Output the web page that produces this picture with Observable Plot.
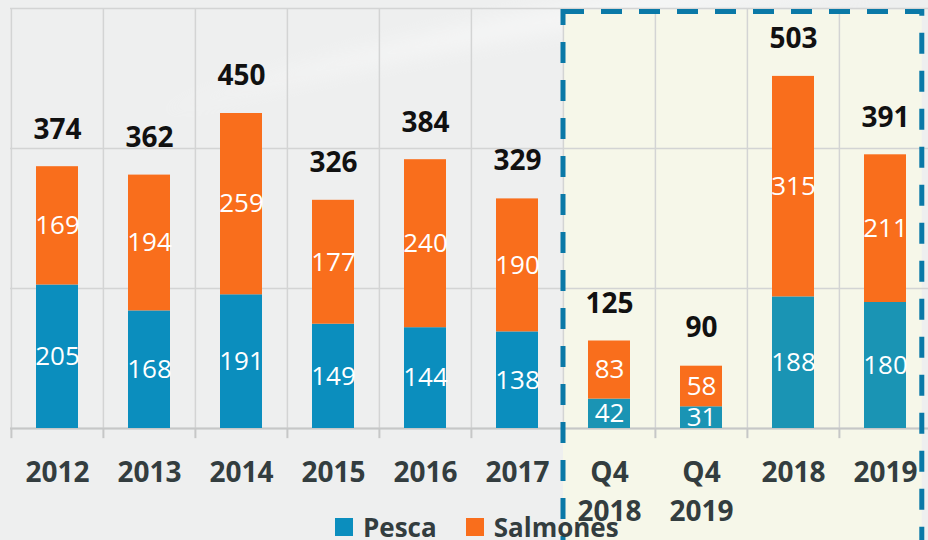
<!DOCTYPE html>
<html>
<head>
<meta charset="utf-8">
<script src="https://cdn.jsdelivr.net/npm/d3@7"></script>
<script src="https://cdn.jsdelivr.net/npm/@observablehq/plot@0.6"></script>
<style>
  html, body { margin: 0; padding: 0; }
  body { background: #eeefef; width: 928px; height: 540px; overflow: hidden; font-family: "Open Sans", sans-serif; }
  #wrap { position: relative; width: 928px; height: 540px; overflow: hidden; }
  #legend { position: absolute; top: 513px; left: 335px; height: 28px; display: flex; align-items: center; font-weight: bold; font-size: 26px; color: #333d3f; white-space: nowrap; }
  #legend .item { display: flex; align-items: center; margin-right: 29px; }
  #legend .sw { width: 18px; height: 18px; margin-right: 10px; }
</style>
</head>
<body>
<div id="wrap"></div>
<script>
const categories = ["2012","2013","2014","2015","2016","2017","Q4\n2018","Q4\n2019","2018","2019"];
const pesca = [205,168,191,149,144,138,42,31,188,180];
const salmones = [169,194,259,177,240,190,83,58,315,211];
const totals = [374,362,450,326,384,329,125,90,503,391];
const seriesNames = ["Pesca","Salmones"];
const seriesColors = ["#0b8ebe","#f96e1c"];
const highlightPescaColor = "#1a94b4";
const highlighted = ["Q4\n2018","Q4\n2019","2018","2019"];
const yTicks = [0,200,400,600];

(function () {
const rows = [];
categories.forEach((c,i) => rows.push({cat:c, series:"Pesca", value:pesca[i]}));
categories.forEach((c,i) => rows.push({cat:c, series:"Salmones", value:salmones[i]}));
const totalRows = categories.map((c,i) => ({cat:c, total:totals[i]}));

const font = "'Open Sans', sans-serif";
const half = (932 - 10) / categories.length / 2;
const barFill = d => d.series === "Pesca"
  ? (highlighted.includes(d.cat) ? highlightPescaColor : seriesColors[0])
  : seriesColors[1];

const plot = Plot.plot({
  width: 928,
  height: 540,
  marginTop: 8,
  marginBottom: 112,
  marginLeft: 10,
  marginRight: 0,
  style: {background: "transparent", fontFamily: font, overflow: "visible"},
  x: {domain: categories, range: [10, 932], padding: 0, axis: null},
  y: {domain: [0, 600], axis: null},
  marks: [
    Plot.ruleY(yTicks, {stroke: "#d3d4d4", strokeWidth: 1.5}),
    Plot.ruleX(categories, {x: d => d, y1: 0, y2: 600, dx: -half, stroke: "#d3d4d4", strokeWidth: 1.5}),
    Plot.ruleX(categories, {x: d => d, y1: 0, y2: -14.5, dx: -half, stroke: "#c6c7c7", strokeWidth: 2}),
    Plot.ruleY([0], {stroke: "#c6c7c7", strokeWidth: 2}),
    Plot.barY(rows, {x: "cat", y: "value", z: "series", fill: barFill, insetLeft: 25, insetRight: 25}),
    Plot.text(rows, Plot.stackY({x: "cat", y: "value", z: "series", text: d => String(d.value), fill: "white", fontSize: 26, fontFamily: font})),
    Plot.text(totalRows, {x: "cat", y: "total", text: d => String(d.total), dy: -37, fill: "#111", fontSize: 28, fontWeight: "bold", fontFamily: font}),
    Plot.axisX({tickSize: 0, tickPadding: 26, fontSize: 28, fontWeight: "bold", fill: "#333d3f", lineHeight: 1.38, fontFamily: font, label: null})
  ]
});

document.getElementById("wrap").appendChild(plot);

const xs = plot.scale("x");
const ys = plot.scale("y");
const bw = xs.bandwidth;
const boxLeft = xs.apply(highlighted[0]);
const boxRight = xs.apply(highlighted[highlighted.length - 1]) + bw * 0.9;
const boxTop = ys.apply(600) + 3.5;
const svg = d3.select(plot);
svg.insert("rect", ":first-child")
  .attr("x", boxLeft).attr("y", boxTop - 2)
  .attr("width", boxRight - boxLeft).attr("height", 560)
  .attr("fill", "#f6f7e9");
// soft light swoosh in the backdrop
const defs = svg.insert("defs", ":first-child");
const blur = defs.append("filter").attr("id", "soft").attr("x", "-20%").attr("y", "-50%").attr("width", "140%").attr("height", "200%");
blur.append("feGaussianBlur").attr("stdDeviation", 10);
svg.insert("path", "rect")
  .attr("d", "M 150 115 Q 400 30 660 -10 L 900 -10 Q 520 20 150 115 Z")
  .attr("fill", "white")
  .attr("opacity", 0.45)
  .attr("filter", "url(#soft)");
svg.append("rect")
  .attr("x", boxLeft).attr("y", boxTop)
  .attr("width", boxRight - boxLeft).attr("height", 560)
  .attr("fill", "none")
  .attr("stroke", "#0a79a7")
  .attr("stroke-width", 5)
  .attr("stroke-dasharray", "21 17");

const legend = document.createElement("div");
legend.id = "legend";
seriesNames.forEach((n,i) => {
  const it = document.createElement("div");
  it.className = "item";
  const sw = document.createElement("div");
  sw.className = "sw";
  sw.style.background = seriesColors[i];
  const t = document.createElement("span");
  t.textContent = n;
  it.appendChild(sw); it.appendChild(t);
  legend.appendChild(it);
});
document.getElementById("wrap").appendChild(legend);
})();
</script>
</body>
</html>
